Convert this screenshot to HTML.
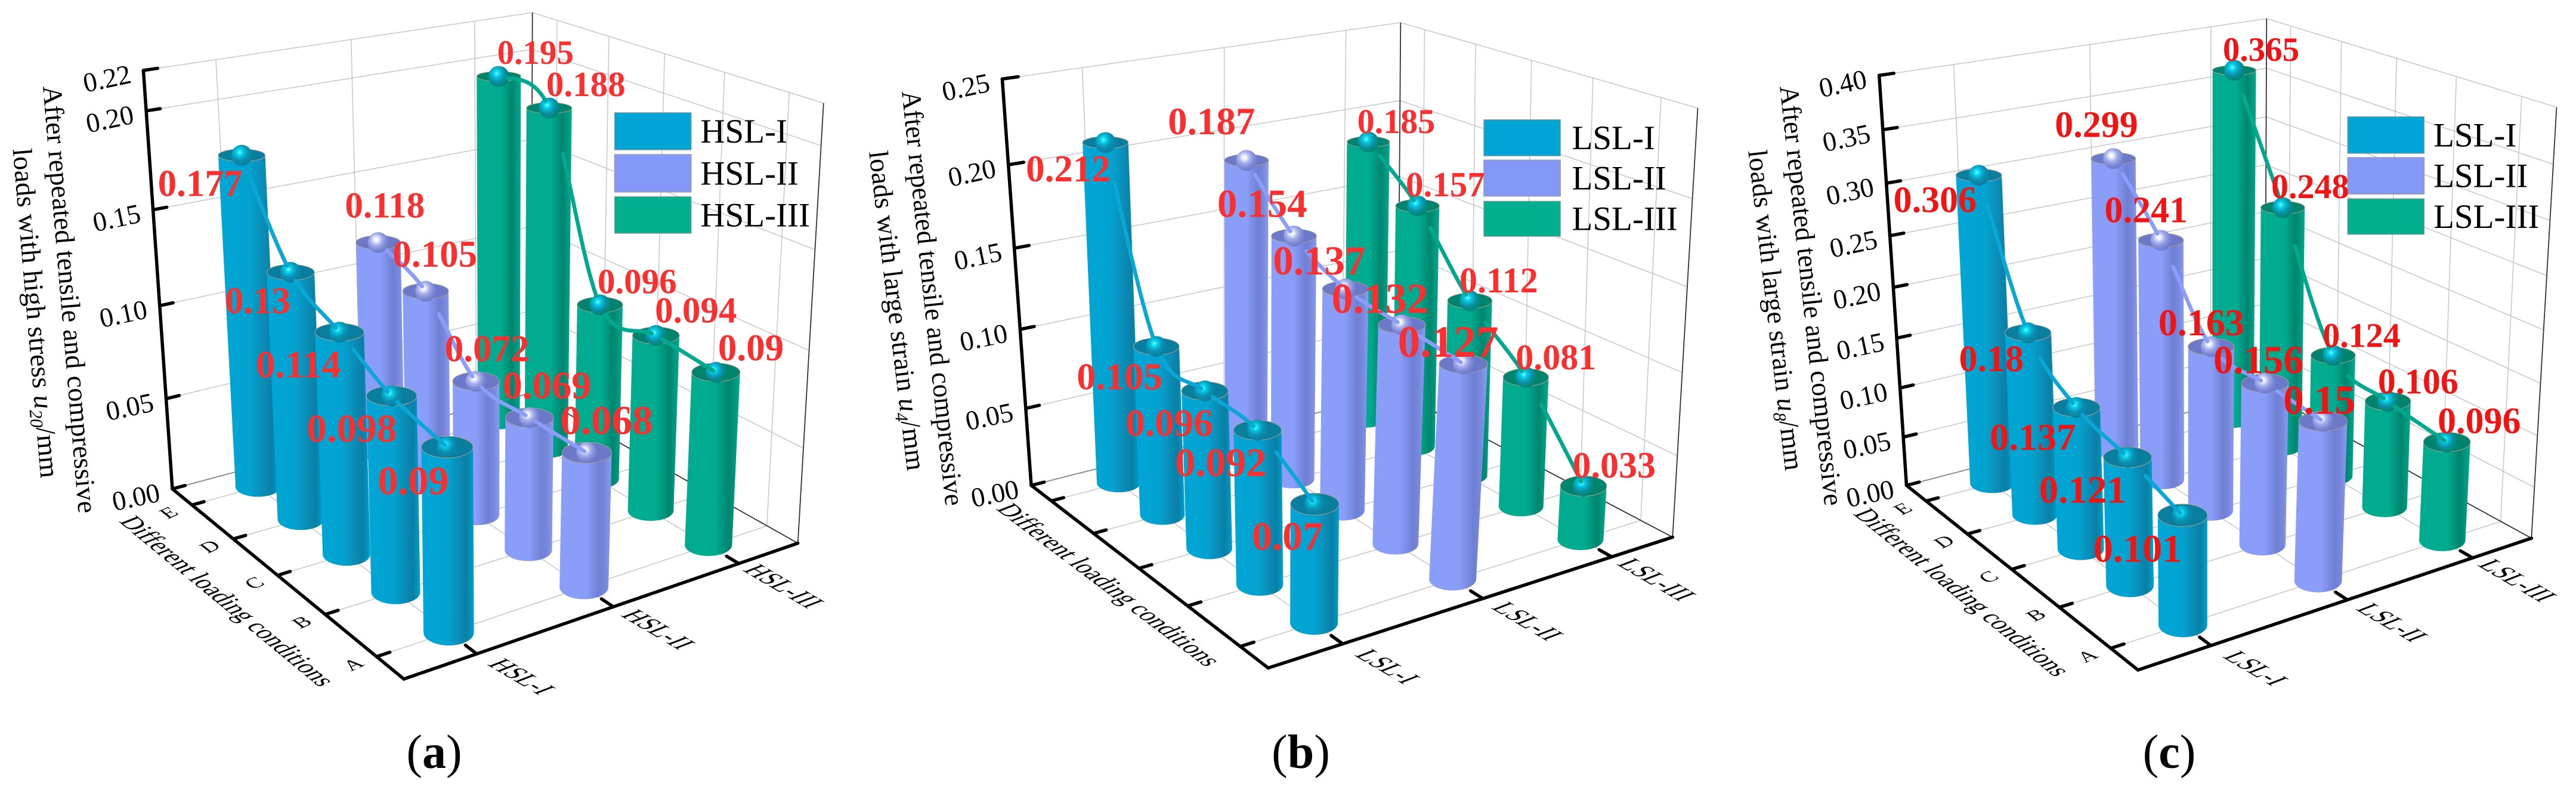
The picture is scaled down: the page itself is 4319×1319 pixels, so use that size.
<!DOCTYPE html>
<html lang="en">
<head>
<meta charset="utf-8">
<title>Repeated load deformation charts</title>
<style>
html,body{margin:0;padding:0;background:#fff;}
svg{display:block;}
text{font-family:"Liberation Serif",serif;fill:#000;}
</style>
</head>
<body>
<svg id="figure" xmlns="http://www.w3.org/2000/svg" width="4319" height="1319" viewBox="0 0 4319 1319">
<defs>
<linearGradient id="g0" x1="0" x2="1" y1="0" y2="0"><stop offset="0" stop-color="#00a6d6"/><stop offset=".5" stop-color="#03a2cf"/><stop offset=".72" stop-color="#0a8db6"/><stop offset=".86" stop-color="#0a7fa6"/><stop offset=".96" stop-color="#0098c2"/><stop offset="1" stop-color="#00a6d0"/></linearGradient>
<linearGradient id="g1" x1="0" x2="1" y1="0" y2="0"><stop offset="0" stop-color="#8a9df8"/><stop offset=".5" stop-color="#8a9ef9"/><stop offset=".76" stop-color="#6f7fd4"/><stop offset=".88" stop-color="#7788dd"/><stop offset="1" stop-color="#8a9cf2"/></linearGradient>
<linearGradient id="g2" x1="0" x2="1" y1="0" y2="0"><stop offset="0" stop-color="#00ab8f"/><stop offset=".55" stop-color="#00ab8f"/><stop offset=".8" stop-color="#008570"/><stop offset=".94" stop-color="#009e85"/><stop offset="1" stop-color="#00ab8f"/></linearGradient>
<radialGradient id="s0" cx=".4" cy=".36" r=".66"><stop offset="0" stop-color="#b4ffff"/><stop offset=".1" stop-color="#20f0ff"/><stop offset=".3" stop-color="#08bfdc"/><stop offset=".6" stop-color="#0a8fb0"/><stop offset="1" stop-color="#0a7e9f"/></radialGradient>
<radialGradient id="s2" cx=".4" cy=".36" r=".66"><stop offset="0" stop-color="#b4ffff"/><stop offset=".1" stop-color="#20f0ff"/><stop offset=".3" stop-color="#08bfdc"/><stop offset=".62" stop-color="#0a8fa0"/><stop offset="1" stop-color="#00846e"/></radialGradient>
<radialGradient id="s1" cx=".4" cy=".36" r=".66"><stop offset="0" stop-color="#ffffff"/><stop offset=".16" stop-color="#eef0ff"/><stop offset=".42" stop-color="#a6b0ea"/><stop offset=".72" stop-color="#7f8bd8"/><stop offset="1" stop-color="#6c79c9"/></radialGradient>
</defs>
</svg>
<script>
/* ---------- chart data ---------- */
const loadLabels = ["E","D","C","B","A"];
const hslSeries = ["HSL-I","HSL-II","HSL-III"];
const lslSeries = ["LSL-I","LSL-II","LSL-III"];
const ticksA = ["0.00","0.05","0.10","0.15","0.20","0.22"];
const ticksB = ["0.00","0.05","0.10","0.15","0.20","0.25"];
const ticksC = ["0.00","0.05","0.10","0.15","0.20","0.25","0.30","0.35","0.40"];
const valuesA1 = [0.177,0.13,0.114,0.098,0.09];
const valuesA2 = [0.118,0.105,0.072,0.069,0.068];
const valuesA3 = [0.195,0.188,0.096,0.094,0.09];
const valuesB1 = [0.212,0.105,0.096,0.092,0.07];
const valuesB2 = [0.187,0.154,0.137,0.132,0.127];
const valuesB3 = [0.185,0.157,0.112,0.081,0.033];
const valuesC1 = [0.306,0.18,0.137,0.121,0.101];
const valuesC2 = [0.299,0.241,0.163,0.156,0.15];
const valuesC3 = [0.365,0.248,0.124,0.106,0.096];

/* ---------- panel layout (box corners, label nudges) ---------- */
const panels = [
 {id:"a",ox:0,max:0.22,ticks:ticksA,series:hslSeries,values:[valuesA1,valuesA2,valuesA3],showLoad:true,labelColor:"#fb2f2f",
  L:[315,972],F:[738,1350],R:[1458,1080],B:[970,781],TL:[262,140],TF:[720,380],TR:[1505,205],TB:[973,25],
  legend:[1123,224,298,307,382,391,464],legendText:1280,
  title1:[95,170,160,1020],title2:[40,295,91,950],t2:"loads with high stress ",sub:"20",
  loadTitle:[232,1030,600,1360],caption:[728],
  trim:[[.27,0,.27,.1],[.25,.27,0,0],[.25,.27,0,.05]],
  off:[[[-76,55],[-60,55],[-75,64],[-73,65],[-62,68]],[[12,-76],[17,-75],[20,-66],[32,-64],[36,-63]],[[67,-51],[67,-50],[68,-49],[73,-52],[64,-50]]],
  fs:[[63,63,65,67,68],[61,63,63,66,69],[57,59,59,61,63]]},
 {id:"b",ox:1440,max:0.25,ticks:ticksB,series:lslSeries,values:[valuesB1,valuesB2,valuesB3],showLoad:false,labelColor:"#fb2f2f",
  L:[315,965],F:[748,1328],R:[1487,1068],B:[985,780],TL:[262,157],TF:[730,428],TR:[1533,215],TB:[990,45],
  legend:[1142,238,310,318,390,400,470],legendText:1303,
  title1:[95,180,175,1005],title2:[35,300,105,935],t2:"loads with large strain ",sub:"4",
  loadTitle:[265,1005,650,1320],caption:[741],
  trim:[[.25,.1,.15,.3],[.25,.25,.2,.15],[.3,.25,.28,.25]],
  off:[[[-68,51],[-67,59],[-65,63],[-67,65],[-50,65]],[[-64,-78],[-58,-64],[-48,-55],[-40,-50],[-28,-40]],[[51,-44],[51,-45],[53,-43],[55,-42],[56,-43]]],
  fs:[[63,64,65,68,68],[65,67,69,72,75],[58,59,60,60,62]]},
 {id:"c",ox:2880,max:0.40,ticks:ticksC,series:lslSeries,values:[valuesC1,valuesC2,valuesC3],showLoad:true,labelColor:"#f21414",
  L:[345,965],F:[768,1332],R:[1487,1070],B:[1000,780],TL:[295,150],TF:[750,402],TR:[1533,213],TB:[1003,37],
  legend:[1151,232,305,313,386,395,466],legendText:1308,
  title1:[130,170,212,1005],title2:[72,298,140,935],t2:"loads with large strain ",sub:"8",
  loadTitle:[262,1015,632,1340],caption:[757],
  trim:[[.25,.25,.12,.3],[.27,.25,.2,.2],[.25,.25,.28,.1]],
  off:[[[-80,47],[-67,50],[-80,58],[-82,64],[-82,66]],[[-31,-69],[-27,-62],[-18,-49],[-12,-46],[-7,-41]],[[49,-45],[50,-45],[52,-43],[55,-42],[59,-44]]],
  fs:[[62,62,64,65,66],[62,62,64,67,69],[57,58,58,60,62]]}
];
const catPos = [1/6,1/2,5/6];
const loadPos = [0.1,0.3,0.5,0.7,0.9];
const SX = 0.9175, SY = 0.843;
const NS = "http://www.w3.org/2000/svg";
const svg = document.getElementById("figure");

function make(tag, attrs, parent){
  const e = document.createElementNS(NS, tag);
  for(const k in attrs) e.setAttribute(k, attrs[k]);
  (parent||svg).appendChild(e);
  return e;
}
function homography(p0,p1,p2,p3){
  const dx1=p1[0]-p2[0],dx2=p3[0]-p2[0],sx=p0[0]-p1[0]+p2[0]-p3[0];
  const dy1=p1[1]-p2[1],dy2=p3[1]-p2[1],sy=p0[1]-p1[1]+p2[1]-p3[1];
  const den=dx1*dy2-dx2*dy1;
  const g=(sx*dy2-dx2*sy)/den,h=(dx1*sy-sx*dy1)/den;
  const a=p1[0]-p0[0]+g*p1[0],b=p3[0]-p0[0]+h*p3[0],c=p0[0];
  const d=p1[1]-p0[1]+g*p1[1],e=p3[1]-p0[1]+h*p3[1],f=p0[1];
  return (u,v)=>{const w=g*u+h*v+1;return [(a*u+b*v+c)/w,(d*u+e*v+f)/w];};
}

panels.forEach(function(P){
  const S = p => [P.ox+p[0]*SX, p[1]*SY];
  const floorH = homography(S(P.L),S(P.B),S(P.R),S(P.F));
  const topH = homography(S(P.TL),S(P.TB),S(P.TR),S(P.TF));
  const Q = 1.07;
  const yAxis = val => { const h = val/P.max; return h/(h+(1-h)*Q); };
  const project = (u,v,val) => {
    const k = yAxis(val), a = floorH(u,v), b = topH(u,v);
    return [a[0]+(b[0]-a[0])*k, a[1]+(b[1]-a[1])*k];
  };
  const boxH = (u,v) => { const a=floorH(u,v), b=topH(u,v); return Math.hypot(a[0]-b[0],a[1]-b[1]); };

  const g = make("g",{});
  
  

  /* grid */
  const gridG = make("g",{stroke:"#c9c9c9","stroke-width":1.6,fill:"none"},g);
  
  
  const seg = (a,b,parent,attrs) => make("line",Object.assign({x1:a[0].toFixed(1),y1:a[1].toFixed(1),x2:b[0].toFixed(1),y2:b[1].toFixed(1)},attrs||{}),parent);
  P.ticks.forEach(function(t){
    const val = parseFloat(t);
    seg(project(0,0,val),project(1,0,val),gridG);
    seg(project(1,0,val),project(1,1,val),gridG);
  });
  catPos.forEach(function(u){
    seg(project(u,0,0),project(u,0,P.max),gridG);
    seg(project(u,0,0),project(u,1,0),gridG);
  });
  loadPos.forEach(function(v){
    seg(project(1,v,0),project(1,v,P.max),gridG);
    seg(project(0,v,0),project(1,v,0),gridG);
  });
  /* thin box edges */
  const edgeG = make("g",{stroke:"#333","stroke-width":1.8,fill:"none"},g);
  
  
  seg(project(1,0,0),project(1,0,P.max),edgeG);
  seg(project(1,1,0),project(1,1,P.max),edgeG);
  seg(project(1,0,0),project(1,1,0),edgeG);
  seg(project(0,0,0),project(1,0,0),edgeG,{stroke:"#888"});

  /* legend */
  const lx0=P.ox+(P.legend[0])*SX, lx1=lx0+139*SX+1;
  const legendColors=["#00a5d8","#8499f7","#00ae90"];
  for(let i=0;i<3;i++){
    const y0=P.legend[1+2*i]*SY,y1=P.legend[2+2*i]*SY;
    const r=make("rect",{x:lx0.toFixed(1),y:y0.toFixed(1),width:(lx1-lx0).toFixed(1),height:(y1-y0).toFixed(1),fill:legendColors[i],stroke:"#9a9a9a","stroke-width":1.2},g);
    
    
    const tx=make("text",{x:(P.ox+P.legendText*SX).toFixed(1),y:((y0+y1)/2+19).toFixed(1),"font-size":57},g);
    tx.textContent=P.series[i];
    
    
  }

  /* bars, connecting lines, spheres: back series first */
  const barColors=["url(#g0)","url(#g1)","url(#g2)"];
  const topColors=["#0a7e9f","#6c79c9","#00846e"];
  const lineColors=["#0aa6d6","#8a9df8","#00a88f"];
  const sphereFill=["url(#s0)","url(#s1)","url(#s2)"];
  const ratio = y => 0.225+(y-125)*0.00031;
  [2,1,0].forEach(function(si){
    const u=catPos[si], vals=P.values[si];
    const sg=make("g",{},g);
    
    
    const tops=[];
    vals.forEach(function(val,i){
      const v=loadPos[i];
      const base=project(u,v,0), top=project(u,v,val);
      const k=boxH(u,v)*0.0535;
      const rb=k, rt=k*(1+0.06*yAxis(val));
      const ryb=rb*ratio(base[1]), ryt=rt*ratio(top[1]);
      tops.push(top);
      const d="M"+(top[0]-rt).toFixed(1)+" "+top[1].toFixed(1)+
        "L"+(base[0]-rb).toFixed(1)+" "+base[1].toFixed(1)+
        "A"+rb.toFixed(1)+" "+ryb.toFixed(1)+" 0 0 0 "+(base[0]+rb).toFixed(1)+" "+base[1].toFixed(1)+
        "L"+(top[0]+rt).toFixed(1)+" "+top[1].toFixed(1)+"Z";
      const body=make("path",{d:d,fill:barColors[si]},sg);
      
      
      const cap=make("ellipse",{cx:top[0].toFixed(1),cy:top[1].toFixed(1),rx:rt.toFixed(1),ry:ryt.toFixed(1),fill:topColors[si],stroke:"#a89f8c","stroke-width":1},sg);
      
      
    });
    tops.forEach(function(top){
      const c=make("circle",{cx:top[0].toFixed(1),cy:top[1].toFixed(1),r:17.5,fill:sphereFill[si]},sg);
      
      
    });
    /* spline */
    const cr=(a,b,c,d,t)=>{const t2=t*t,t3=t2*t;return 0.5*(2*b+(c-a)*t+(2*a-5*b+4*c-d)*t2+(3*b-a-3*c+d)*t3);};
    for(let i=0;i<tops.length-1;i++){
      const p0=tops[Math.max(0,i-1)],p1=tops[i],p2=tops[i+1],p3=tops[Math.min(tops.length-1,i+2)];
      const pts=[];
      const t0=Math.max(P.trim[si][i],0.1);
      for(let s=0;s<=16;s++){
        const t=t0+(0.93-t0)*s/16;
        pts.push(cr(p0[0],p1[0],p2[0],p3[0],t).toFixed(1)+","+cr(p0[1],p1[1],p2[1],p3[1],t).toFixed(1));
      }
      const ln=make("polyline",{points:pts.join(" "),fill:"none",stroke:lineColors[si],"stroke-width":6.5,"stroke-linecap":"round"},sg);
      
      
    }
  });

  /* value labels */
  [0,1,2].forEach(function(si){
    P.values[si].forEach(function(val,i){
      const top=project(catPos[si],loadPos[i],val);
      const o=P.off[si][i];
      const t=make("text",{x:(top[0]+o[0]*SX).toFixed(1),y:(top[1]+o[1]*SY+22).toFixed(1),"font-size":P.fs[si][i],"font-weight":"bold","text-anchor":"middle",style:"fill:"+P.labelColor},g);
      t.textContent=String(val);
      
      
    });
  });

  /* thick axes */
  const axisG=make("g",{stroke:"#000","stroke-width":5.5,fill:"none","stroke-linecap":"round","stroke-linejoin":"miter"},g);
  
  
  const a0=project(0,0,P.max),a1=project(0,0,0),a2=project(0,1,0),a3=project(1,1,0);
  const axisPath=make("polyline",{points:[a0,a1,a2,a3].map(p=>p[0].toFixed(1)+","+p[1].toFixed(1)).join(" ")},axisG);
  
  

  /* y ticks and labels */
  P.ticks.forEach(function(t){
    const val=parseFloat(t);
    const p=project(0,0,val);
    const tick=seg(p,project(0.032,0,val),axisG);
    
    
    const lx=p[0]-61, ly=p[1]+14;
    const label=make("text",{transform:"translate("+lx.toFixed(1)+" "+ly.toFixed(1)+") rotate(-12)","font-size":46,"text-anchor":"middle",y:15},g);
    label.textContent=t;
    
    
  });
  /* category ticks and labels */
  catPos.forEach(function(u,i){
    const p=project(u,1,0);
    const tick=seg(p,project(u,0.96,0),axisG);
    
    
    const cx=p[0]+75, cy=p[1]+38;
    const label=make("text",{transform:"matrix(.8 .47 -1.04 .4 "+cx.toFixed(1)+" "+cy.toFixed(1)+")","font-size":43,"text-anchor":"middle",y:14},g);
    label.textContent=P.series[i];
    
    
  });
  /* load ticks and labels */
  loadPos.forEach(function(v,i){
    const p=project(0,v,0);
    const tick=seg(p,project(0.03,v,0),axisG);
    
    
    if(P.showLoad){
      const cx=p[0]-39, cy=p[1]+13;
      const label=make("text",{transform:"matrix(.9 -.4 .68 .54 "+cx.toFixed(1)+" "+cy.toFixed(1)+")","font-size":37,"text-anchor":"middle",y:12},g);
      label.textContent=loadLabels[i];
      
      
    }
  });

  /* axis titles, fitted to their measured run */
  function fit(el,seg4,fs,matrixY){
    const a=S([seg4[0],seg4[1]]),b=S([seg4[2],seg4[3]]);
    const len=Math.hypot(b[0]-a[0],b[1]-a[1]);
    const k=len/el.getComputedTextLength();
    const ux=(b[0]-a[0])/len,uy=(b[1]-a[1])/len;
    const mx=(a[0]+b[0])/2,my=(a[1]+b[1])/2;
    const yx=matrixY?matrixY[0]:-uy, yy=matrixY?matrixY[1]:ux;
    el.setAttribute("transform","matrix("+(ux*k).toFixed(4)+" "+(uy*k).toFixed(4)+" "+yx.toFixed(4)+" "+yy.toFixed(4)+" "+mx.toFixed(1)+" "+my.toFixed(1)+")");
    el.setAttribute("y",(fs*0.33).toFixed(1));
  }
  const t1=make("text",{"font-size":46,"text-anchor":"middle"},g);
  t1.textContent="After repeated tensile and compressive";
  
  
  fit(t1,P.title1,46);
  const t2=make("text",{"font-size":46,"text-anchor":"middle"},g);
  
  
  t2.appendChild(document.createTextNode(P.t2));
  const tu=make("tspan",{"font-style":"italic"},t2); tu.textContent="u";
  const tsub=make("tspan",{"font-style":"italic","font-size":30,dy:9}, t2); tsub.textContent=P.sub;
  const tmm=make("tspan",{dy:-9},t2); tmm.textContent="/mm";
  fit(t2,P.title2,46);
  const t3=make("text",{"font-size":47,"text-anchor":"middle"},g);
  t3.textContent="Different loading conditions";
  
  
  fit(t3,P.loadTitle,47,[-.93,.36]);

  /* caption */
  const cap=make("text",{x:(P.ox+P.caption[0]).toFixed(1),y:1287,"font-size":80,"text-anchor":"middle"},g);
  
  
  cap.appendChild(document.createTextNode("("));
  const capB=make("tspan",{"font-weight":"bold"},cap); capB.textContent=P.id;
  cap.appendChild(document.createTextNode(")"));
});
</script>
</body>
</html>
